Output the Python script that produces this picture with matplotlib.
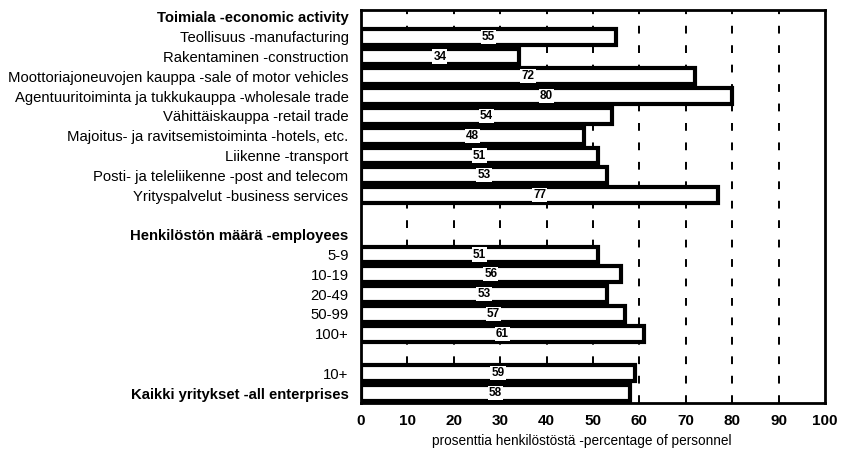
import matplotlib.pyplot as plt

plt.rcParams['font.family'] = ['Liberation Sans', 'DejaVu Sans']

# Rivit ylhäältä alas (None = otsikko- tai tyhjä rivi)
row_labels = [
    'Toimiala -economic activity',
    'Teollisuus -manufacturing',
    'Rakentaminen -construction',
    'Moottoriajoneuvojen kauppa -sale of motor vehicles',
    'Agentuuritoiminta ja tukkukauppa -wholesale trade',
    'Vähittäiskauppa -retail trade',
    'Majoitus- ja ravitsemistoiminta -hotels, etc.',
    'Liikenne -transport',
    'Posti- ja teleliikenne -post and telecom',
    'Yrityspalvelut -business services',
    '',
    'Henkilöstön määrä -employees',
    '5-9',
    '10-19',
    '20-49',
    '50-99',
    '100+',
    '',
    '10+',
    'Kaikki yritykset -all enterprises',
]
values = [None, 55, 34, 72, 80, 54, 48, 51, 53, 77,
          None, None, 51, 56, 53, 57, 61,
          None, 59, 58]
bold_rows = [0, 11, 19]
x_ticks = [0, 10, 20, 30, 40, 50, 60, 70, 80, 90, 100]

fig = plt.figure(figsize=(8.41, 4.53), dpi=100)
fig.patch.set_facecolor('white')
ax = fig.add_axes([361 / 841, 1 - 403 / 453, (825 - 361) / 841, (403 - 10) / 453])

# Katkoviivat
for x in x_ticks[1:-1]:
    ax.axvline(x, color='black', linestyle=(0, (4, 6)), linewidth=1.4, zorder=1)

# Palkit
for i, v in enumerate(values):
    if v is None:
        continue
    ax.barh(i, v, height=0.8, color='white', edgecolor='black', linewidth=3, zorder=2)
    ax.text(v / 2, i, f'{v}', ha='center', va='center', fontsize=8.5, fontweight='bold',
            zorder=3, bbox=dict(facecolor='white', edgecolor='none', pad=0.8))

ax.set_xlim(0, 100)
ax.set_ylim(19.5, -0.35)
ax.set_xticks(x_ticks)
ax.set_xticklabels([str(t) for t in x_ticks], fontsize=11, fontweight='bold')
ax.set_yticks(range(len(row_labels)))
ax.set_yticklabels(row_labels, fontsize=10.7)
for i, lab in enumerate(ax.get_yticklabels()):
    if i in bold_rows:
        lab.set_fontweight('bold')
ax.tick_params(axis='y', length=0, pad=9)
ax.tick_params(axis='x', length=0, pad=8)
ax.set_xlabel('prosenttia henkilöstöstä -percentage of personnel', fontsize=9.8)
ax.xaxis.set_label_coords(0.475, -0.08)

for spine in ax.spines.values():
    spine.set_linewidth(2)

fig.savefig('out.png', dpi=100)
